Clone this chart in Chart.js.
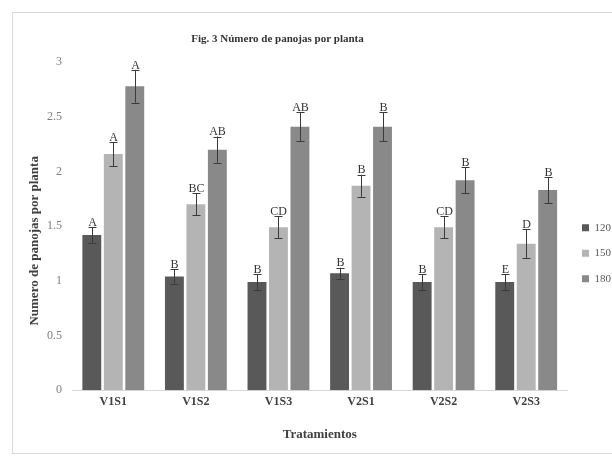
<!DOCTYPE html>
<html>
<head>
<meta charset="utf-8">
<script src="https://cdn.jsdelivr.net/npm/chart.js@4/dist/chart.umd.min.js"></script>
<style>
  html, body { margin: 0; padding: 0; background: #ffffff; }
  #wrap { width: 612px; height: 457px; position: relative; }
</style>
</head>
<body>
<div id="wrap"><canvas id="c" width="612" height="457"></canvas></div>
<script>
const categories = ['V1S1', 'V1S2', 'V1S3', 'V2S1', 'V2S2', 'V2S3'];
const seriesNames = ['120', '150', '180'];
const values120 = [1.42, 1.04, 0.99, 1.07, 0.99, 0.99];
const values150 = [2.16, 1.70, 1.49, 1.87, 1.49, 1.34];
const values180 = [2.78, 2.20, 2.41, 2.41, 1.92, 1.83];
const errors120 = [0.07, 0.065, 0.07, 0.05, 0.07, 0.07];
const errors150 = [0.11, 0.10, 0.10, 0.10, 0.10, 0.13];
const errors180 = [0.15, 0.12, 0.13, 0.13, 0.12, 0.12];
const letters120 = ['A', 'B', 'B', 'B', 'B', 'E'];
const letters150 = ['A', 'BC', 'CD', 'B', 'CD', 'D'];
const letters180 = ['A', 'AB', 'AB', 'B', 'B', 'B'];
const yTickLabels = ['0', '0.5', '1', '1.5', '2', '2.5', '3'];
const chartTitle = 'Fig. 3 Número de panojas por planta';
const xTitle = 'Tratamientos';
const yTitle = 'Numero de panojas por planta';

const colors = ['#595959', '#b4b4b4', '#898989'];
const errorSets = [errors120, errors150, errors180];
const letterSets = [letters120, letters150, letters180];
const valueSets = [values120, values150, values180];

const SERIF = '"Liberation Serif", "DejaVu Serif", serif';

const framePlugin = {
  id: 'frame',
  beforeDraw(chart) {
    const ctx = chart.ctx;
    ctx.save();
    ctx.fillStyle = '#ffffff';
    ctx.fillRect(0, 0, chart.width, chart.height);
    ctx.strokeStyle = '#d9d9d9';
    ctx.lineWidth = 1;
    ctx.strokeRect(12.5, 12.5, 700, 441);
    ctx.restore();
  }
};

const errorBarPlugin = {
  id: 'errorBars',
  afterDatasetsDraw(chart) {
    const ctx = chart.ctx;
    const yScale = chart.scales.y;
    ctx.save();
    chart.data.datasets.forEach((ds, i) => {
      const meta = chart.getDatasetMeta(i);
      meta.data.forEach((bar, j) => {
        const v = ds.data[j];
        const e = errorSets[i][j];
        const yTop = yScale.getPixelForValue(v + e);
        const yBot = yScale.getPixelForValue(v - e);
        const x = Math.round(bar.x) + 0.5;
        ctx.strokeStyle = '#3a3a3a';
        ctx.lineWidth = 1;
        ctx.beginPath();
        ctx.moveTo(x, yTop);
        ctx.lineTo(x, yBot);
        ctx.moveTo(x - 4, Math.round(yTop) + 0.5);
        ctx.lineTo(x + 4, Math.round(yTop) + 0.5);
        ctx.moveTo(x - 4, Math.round(yBot) + 0.5);
        ctx.lineTo(x + 4, Math.round(yBot) + 0.5);
        ctx.stroke();
        ctx.fillStyle = '#333333';
        ctx.font = '12px ' + SERIF;
        ctx.textAlign = 'center';
        ctx.textBaseline = 'middle';
        ctx.fillText(letterSets[i][j], x, yTop - 4.5);
      });
    });
    ctx.restore();
  }
};

new Chart(document.getElementById('c'), {
  type: 'bar',
  data: {
    labels: categories,
    datasets: seriesNames.map((name, i) => ({
      label: name,
      data: valueSets[i],
      backgroundColor: colors[i],
      borderWidth: 0,
      categoryPercentage: 0.78,
      barPercentage: 0.88
    }))
  },
  options: {
    responsive: false,
    animation: false,
    layout: { padding: { top: 28, left: 20, right: 0, bottom: 11 } },
    plugins: {
      title: {
        display: true,
        text: chartTitle + ' '.repeat(28),
        color: '#333333',
        font: { family: SERIF, size: 11, weight: 'bold' },
        padding: { top: 5, bottom: 16 }
      },
      legend: {
        position: 'right',
        fullSize: false,
        maxWidth: 44.5,
        title: { display: true, text: ' ', font: { size: 10, lineHeight: 1.2 }, padding: { top: 21, bottom: 21 } },
        labels: {
          boxWidth: 7,
          boxHeight: 7,
          padding: 14.5,
          color: '#595959',
          font: { family: SERIF, size: 11 }
        }
      },
      tooltip: { enabled: false }
    },
    scales: {
      x: {
        grid: { display: false, drawTicks: false },
        border: { display: true, color: '#d9d9d9', width: 1 },
        ticks: { color: '#404040', padding: 5, font: { family: SERIF, size: 12, weight: 'bold' } },
        title: {
          display: true,
          text: xTitle,
          color: '#404040',
          font: { family: SERIF, size: 13, weight: 'bold' },
          padding: { top: 11.8, bottom: 4 }
        }
      },
      y: {
        min: 0,
        max: 3,
        grid: { display: false, drawTicks: false },
        border: { display: false },
        ticks: {
          stepSize: 0.5,
          padding: 10,
          color: '#7f7f7f',
          font: { family: SERIF, size: 12 },
          callback: (v, idx) => yTickLabels[idx]
        },
        title: {
          display: true,
          text: yTitle + ' '.repeat(9),
          color: '#404040',
          font: { family: SERIF, size: 13, weight: 'bold' },
          padding: { top: 7, bottom: 0 }
        },
        afterFit(scale) { scale.width = 52; }
      }
    }
  },
  plugins: [framePlugin, errorBarPlugin]
});
</script>
</body>
</html>
